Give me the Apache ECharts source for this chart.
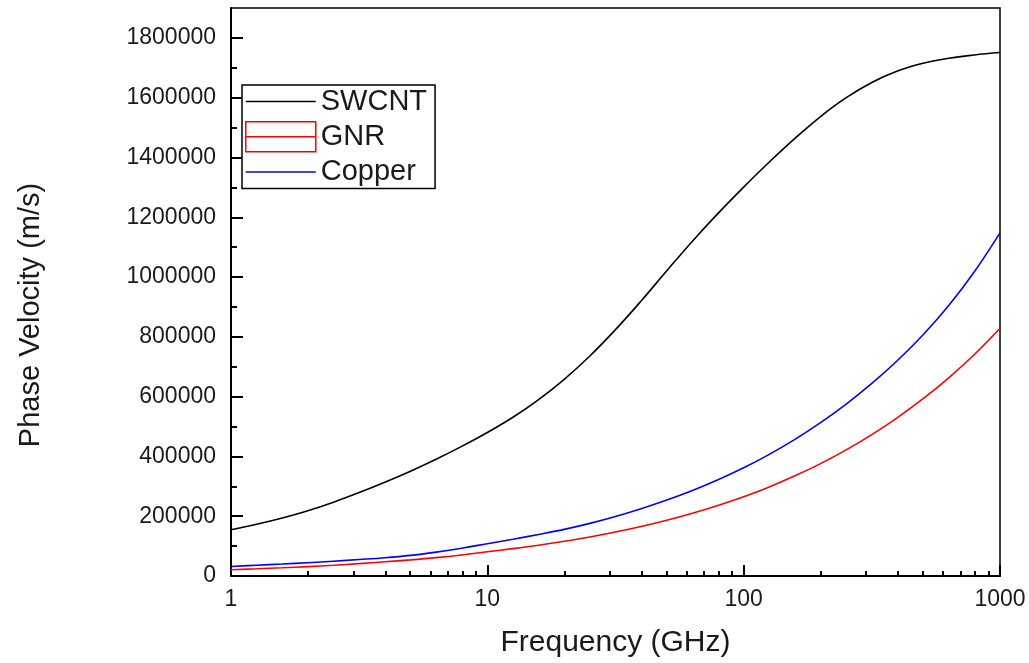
<!DOCTYPE html>
<html>
<head>
<meta charset="utf-8">
<script src="https://cdn.jsdelivr.net/npm/echarts@6/dist/echarts.min.js"></script>
<style>
  html, body { margin: 0; padding: 0; background: #fff; }
  #chartDiv { width: 1029px; height: 663px; }
</style>
</head>
<body>
<div id="chartDiv"></div>
<script>
// frequency in GHz (log axis), 10 points per decade
var freqGHz = [1, 1.259, 1.585, 1.995, 2.512, 3.162, 3.981, 5.012, 6.31, 7.943,
    10, 12.59, 15.85, 19.95, 25.12, 31.62, 39.81, 50.12, 63.1, 79.43,
    100, 125.9, 158.5, 199.5, 251.2, 316.2, 398.1, 501.2, 631, 794.3, 1000];

// phase velocity (m/s)
var swcntVel = [155000, 173000, 194000, 218500, 247000, 279000, 313500, 350500, 390500, 433500,
    480000, 531000, 590000, 658000, 736000, 824000, 920000, 1021000, 1120000, 1213000,
    1301000, 1385000, 1464000, 1537000, 1600000, 1651000, 1689000, 1715000, 1732000, 1743000, 1751000];
var gnrVel = [21000, 24000, 27500, 31500, 36000, 41500, 47500, 54000, 61500, 70500,
    81000, 91500, 103000, 116000, 130500, 147000, 165500, 186500, 210000, 236000,
    265000, 298000, 335000, 376000, 422000, 473000, 530000, 593000, 663000, 741000, 829000];
var copperVel = [32000, 36000, 40000, 44500, 49500, 55000, 61000, 69000, 80000, 93000,
    108000, 123000, 139000, 156000, 176000, 199000, 225000, 254000, 286000, 322000,
    362000, 407000, 457000, 513000, 575000, 644000, 721000, 807000, 905000, 1018000, 1148000];

// tick values
var xMajorTicks = [1, 10, 100, 1000];
var xMinorTicks = [2, 3, 4, 5, 6, 7, 8, 9, 20, 30, 40, 50, 60, 70, 80, 90, 200, 300, 400, 500, 600, 700, 800, 900];
var yMajorTicks = [0, 200000, 400000, 600000, 800000, 1000000, 1200000, 1400000, 1600000, 1800000];
var yMinorTicks = [100000, 300000, 500000, 700000, 900000, 1100000, 1300000, 1500000, 1700000];

function pairUp(xs, ys) {
    var out = [];
    for (var i = 0; i < xs.length; i++) {
        out.push([xs[i], ys[i]]);
    }
    return out;
}

var txtColor = '#1a1a1a';
var fontName = '"Liberation Sans", Arial, sans-serif';

var option = {
    animation: false,
    backgroundColor: '#fff',
    grid: {
        left: 231, top: 8, width: 769, height: 570,
        show: true, borderColor: '#000', borderWidth: 1.5
    },
    legend: {
        orient: 'vertical',
        left: 242, top: 85,
        padding: [2, 8, 2, 3],
        itemWidth: 70, itemHeight: 30, itemGap: 5,
        itemTextGap: 12,
        borderColor: '#000', borderWidth: 1.5,
        backgroundColor: '#fff',
        textStyle: { fontFamily: fontName, fontSize: 29, color: txtColor },
        data: [
            { name: 'SWCNT', icon: 'path://M0,0H70V1.5H0Z', itemStyle: { color: '#000', borderWidth: 0 } },
            { name: 'GNR', icon: 'path://M0,0H70V30H0Z M0,15H70', itemStyle: { color: 'transparent', borderColor: '#ff0000', borderWidth: 1.5 } },
            { name: 'Copper', icon: 'path://M0,0H70V1.5H0Z', itemStyle: { color: '#0000ff', borderWidth: 0 } }
        ]
    },
    xAxis: [
        {
            type: 'log', logBase: 10, min: 1, max: 1000,
            name: 'Frequency (GHz)', nameLocation: 'middle', nameGap: 52,
            nameTextStyle: { fontFamily: fontName, fontSize: 30, color: txtColor },
            axisLine: { lineStyle: { color: '#000', width: 2 } },
            axisTick: { inside: true, length: 11, customValues: xMajorTicks, lineStyle: { color: '#000', width: 2 } },
            axisLabel: {
                margin: 12, customValues: xMajorTicks, fontFamily: fontName, fontSize: 23, color: txtColor,
                formatter: function (v) { return String(v); }
            },
            splitLine: { show: false }
        },
        {
            type: 'log', logBase: 10, min: 1, max: 1000, position: 'bottom',
            axisLine: { show: false },
            axisTick: { inside: true, length: 5, customValues: xMinorTicks, lineStyle: { color: '#000', width: 2 } },
            axisLabel: { show: false },
            splitLine: { show: false }
        }
    ],
    yAxis: [
        {
            type: 'value', min: 0, max: 1900000, interval: 200000,
            name: 'Phase Velocity (m/s)', nameLocation: 'middle', nameGap: 186,
            nameTextStyle: { fontFamily: fontName, fontSize: 29, color: txtColor, padding: [0, 46, 0, 0] },
            axisLine: { show: true, lineStyle: { color: '#000', width: 2 } },
            axisTick: { show: true, inside: true, length: 12, customValues: yMajorTicks, lineStyle: { color: '#000', width: 2 } },
            axisLabel: {
                margin: 15, customValues: yMajorTicks, fontFamily: fontName, fontSize: 23, color: txtColor,
                formatter: function (v) { return String(v); }
            },
            splitLine: { show: false }
        },
        {
            type: 'value', min: 0, max: 1900000, position: 'left',
            axisLine: { show: false },
            axisTick: { show: true, inside: true, length: 6, customValues: yMinorTicks, lineStyle: { color: '#000', width: 2 } },
            axisLabel: { show: false },
            splitLine: { show: false }
        }
    ],
    series: [
        {
            name: 'SWCNT', type: 'line', smooth: 0.4, symbol: 'none',
            lineStyle: { color: '#000', width: 1.6 }, itemStyle: { color: '#000' },
            data: pairUp(freqGHz, swcntVel)
        },
        {
            name: 'GNR', type: 'line', smooth: 0.4, symbol: 'none',
            lineStyle: { color: '#ff0000', width: 1.6 }, itemStyle: { color: '#ff0000' },
            data: pairUp(freqGHz, gnrVel)
        },
        {
            name: 'Copper', type: 'line', smooth: 0.4, symbol: 'none',
            lineStyle: { color: '#0000ff', width: 1.6 }, itemStyle: { color: '#0000ff' },
            data: pairUp(freqGHz, copperVel)
        }
    ]
};

var myChart = echarts.init(document.getElementById('chartDiv'));
myChart.setOption(option);
</script>
</body>
</html>
